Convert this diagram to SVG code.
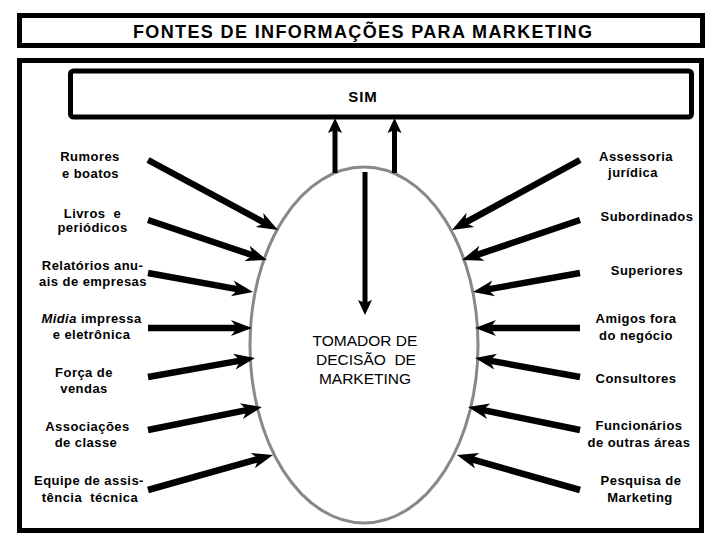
<svg xmlns="http://www.w3.org/2000/svg" width="720" height="540" viewBox="0 0 720 540">
<style>
.box{fill:#fff;stroke:#000;stroke-width:5}
.lbl{font-family:"Liberation Sans",Arial,sans-serif;font-size:13px;font-weight:bold;letter-spacing:0.45px;text-anchor:middle;fill:#000;white-space:pre}
.ctr{font-family:"Liberation Sans",Arial,sans-serif;font-size:15.5px;text-anchor:middle;fill:#000;white-space:pre}
.arr{stroke:#000;stroke-width:6.5;fill:none;marker-end:url(#ah)}
.varr{stroke:#000;stroke-width:5;fill:none;marker-end:url(#vh)}
</style>
<defs>
<marker id="ah" markerUnits="userSpaceOnUse" viewBox="-23 -10 25 20" markerWidth="25" markerHeight="20" refX="-12" refY="0" orient="auto">
<path d="M0,0 L-21,-8 L-15,0 L-21,8 Z" fill="#000"/>
</marker>
<marker id="vh" markerUnits="userSpaceOnUse" viewBox="-18 -9 20 18" markerWidth="20" markerHeight="18" refX="-8" refY="0" orient="auto">
<path d="M0,0 L-15,-7 L-12,0 L-15,7 Z" fill="#000"/>
</marker>
</defs>
<rect width="720" height="540" fill="#fff"/>
<g id="title">
<rect class="box" x="19.5" y="15.5" width="683" height="30"/>
<text x="133" y="37.5" textLength="459" lengthAdjust="spacing" style="font-family:'Liberation Sans',Arial,sans-serif;font-size:18px;font-weight:bold">FONTES DE INFORMAÇÕES PARA MARKETING</text>
</g>
<g id="frame">
<rect class="box" x="19.5" y="60.5" width="682" height="470"/>
</g>
<g id="sim">
<rect class="box" x="70.5" y="71" width="621" height="46" rx="3"/>
<text x="363" y="102" style="font-family:'Liberation Sans',Arial,sans-serif;font-size:15px;font-weight:bold;letter-spacing:1px;text-anchor:middle">SIM</text>
</g>
<g id="decisor">
<ellipse cx="364" cy="345" rx="114" ry="178" fill="none" stroke="#888" stroke-width="3"/>
<text class="ctr" x="365" y="346">TOMADOR DE</text>
<text class="ctr" x="366" y="365">DECISÃO  DE</text>
<text class="ctr" x="365" y="384">MARKETING</text>
</g>
<g id="connectors">
<line class="varr" x1="335" y1="173" x2="335" y2="126"/>
<line class="varr" x1="394.5" y1="173" x2="394.5" y2="126"/>
<line class="varr" x1="365" y1="172" x2="365" y2="307"/>
<line class="arr" x1="148" y1="160" x2="267.4" y2="224.3"/>
<line class="arr" x1="148" y1="220" x2="255.6" y2="256.2"/>
<line class="arr" x1="148" y1="273" x2="241.2" y2="289.9"/>
<line class="arr" x1="148" y1="328" x2="240" y2="328"/>
<line class="arr" x1="148" y1="377" x2="243.2" y2="360.1"/>
<line class="arr" x1="148" y1="430" x2="250.2" y2="409.4"/>
<line class="arr" x1="148" y1="490" x2="261.4" y2="458.2"/>
<line class="arr" x1="580" y1="160" x2="462.5" y2="224.2"/>
<line class="arr" x1="580" y1="220" x2="473.4" y2="256.1"/>
<line class="arr" x1="580" y1="273" x2="484.8" y2="289.9"/>
<line class="arr" x1="580" y1="328" x2="487" y2="328"/>
<line class="arr" x1="580" y1="377" x2="486.8" y2="360.1"/>
<line class="arr" x1="580" y1="430" x2="479.8" y2="409.4"/>
<line class="arr" x1="580" y1="490" x2="468.5" y2="458.3"/>
</g>
<g id="rumores"><text class="lbl" x="90" y="161">Rumores</text><text class="lbl" x="90.5" y="178">e boatos</text></g>
<g id="livros"><text class="lbl" x="92.5" y="218">Livros  e</text><text class="lbl" x="92.5" y="232">periódicos</text></g>
<g id="relatorios"><text class="lbl" x="92.5" y="270">Relatórios anu-</text><text class="lbl" x="93" y="286">ais de empresas</text></g>
<g id="midia"><text class="lbl" x="91.5" y="323"><tspan font-style="italic">Midia</tspan> impressa</text><text class="lbl" x="91.5" y="339">e eletrônica</text></g>
<g id="forca"><text class="lbl" x="84" y="377">Força de</text><text class="lbl" x="84" y="393">vendas</text></g>
<g id="associacoes"><text class="lbl" x="87.5" y="431">Associações</text><text class="lbl" x="86" y="447">de classe</text></g>
<g id="equipe"><text class="lbl" x="89" y="485">Equipe de assis-</text><text class="lbl" x="90" y="502">tência  técnica</text></g>
<g id="assessoria"><text class="lbl" x="636" y="161">Assessoria</text><text class="lbl" x="633" y="177">jurídica</text></g>
<g id="subordinados"><text class="lbl" x="647" y="221">Subordinados</text></g>
<g id="superiores"><text class="lbl" x="647" y="275">Superiores</text></g>
<g id="amigos"><text class="lbl" x="636" y="323">Amigos fora</text><text class="lbl" x="636" y="340">do negócio</text></g>
<g id="consultores"><text class="lbl" x="636" y="383">Consultores</text></g>
<g id="funcionarios"><text class="lbl" x="639" y="430">Funcionários</text><text class="lbl" x="639" y="447">de outras áreas</text></g>
<g id="pesquisa"><text class="lbl" x="641" y="485">Pesquisa de</text><text class="lbl" x="640" y="502">Marketing</text></g>
</svg>
